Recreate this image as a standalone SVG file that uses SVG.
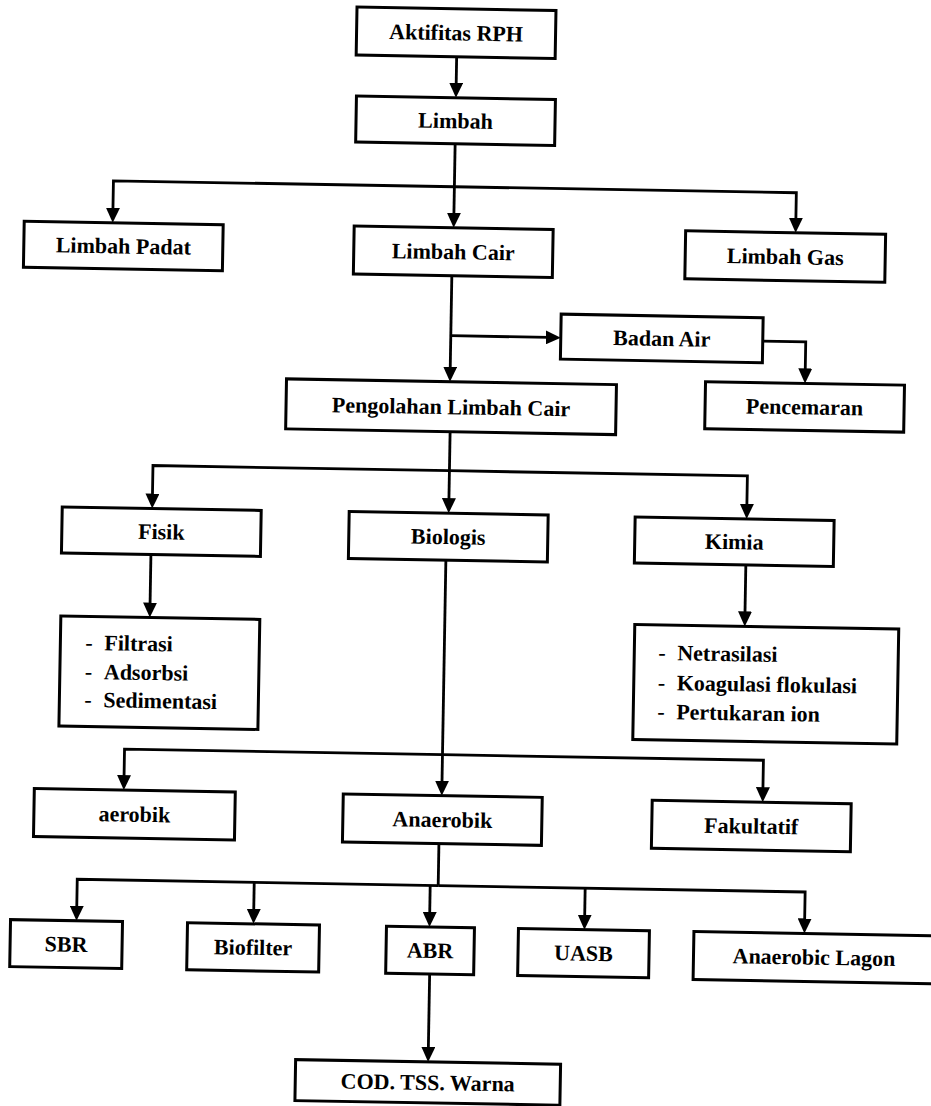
<svg xmlns="http://www.w3.org/2000/svg" width="931" height="1106" viewBox="0 0 931 1106">
<defs>
<style>
.box{fill:#fff;stroke:#000;stroke-width:3}
.t{font-family:"Liberation Serif","Times New Roman",serif;font-weight:bold;font-size:22px;fill:#000;text-anchor:middle}
.l{font-family:"Liberation Serif","Times New Roman",serif;font-weight:bold;font-size:22px;fill:#000}
.c{fill:none;stroke:#000;stroke-width:2.8;stroke-linejoin:miter}
.a{marker-end:url(#arr)}
</style>
<marker id="arr" markerUnits="userSpaceOnUse" markerWidth="15" markerHeight="14" refX="3" refY="7" orient="auto">
<path d="M0,0 L15,7 L0,14 z" fill="#000"/>
</marker>
</defs>
<rect width="931" height="1106" fill="#fff"/>
<g transform="rotate(1 465 553)">
<g id="connectors">
<path class="c a" d="M448,57 V86"/>
<path class="c a" d="M448,144 V216"/>
<path class="c a" d="M448,187 H107 V217"/>
<path class="c a" d="M448,187 H790 V215"/>
<path class="c a" d="M447,276 V370"/>
<path class="c a" d="M447,336 H545"/>
<path class="c a" d="M759,336 H802 V365.5"/>
<path class="c a" d="M448,432 V501.5"/>
<path class="c a" d="M448,471 H151.5 V502"/>
<path class="c a" d="M448,471 H746 V502"/>
<path class="c a" d="M151,560 V611"/>
<path class="c a" d="M746,560 V609.5"/>
<path class="c a" d="M446,560.5 V784"/>
<path class="c a" d="M446,755 H128 V784"/>
<path class="c a" d="M446,755 H767 V785"/>
<path class="c" d="M444,844 V886"/>
<path class="c a" d="M444,886 H83 V915.5"/>
<path class="c a" d="M444,886 H811 V915.5"/>
<path class="c a" d="M260,886 V915.5"/>
<path class="c a" d="M436,886 V915.5"/>
<path class="c a" d="M591,886 V915.5"/>
<path class="c a" d="M437,974 V1050.5"/>
</g>
<g id="aktifitas"><rect class="box" x="347.5" y="9" width="199" height="48"/><text class="t" x="447" y="40.5">Aktifitas RPH</text></g>
<g id="limbah"><rect class="box" x="348.5" y="98" width="199" height="46"/><text class="t" x="448" y="128.5">Limbah</text></g>
<g id="limbah-padat"><rect class="box" x="18.5" y="229" width="199" height="46"/><text class="t" x="118" y="259.5">Limbah Padat</text></g>
<g id="limbah-cair"><rect class="box" x="348.5" y="228" width="199" height="48"/><text class="t" x="448" y="259.5">Limbah Cair</text></g>
<g id="limbah-gas"><rect class="box" x="680" y="227" width="200" height="48"/><text class="t" x="780" y="258.5">Limbah Gas</text></g>
<g id="badan-air"><rect class="box" x="557" y="312.5" width="202" height="45"/><text class="t" x="658" y="342.5">Badan Air</text></g>
<g id="pencemaran"><rect class="box" x="702.5" y="377.5" width="199" height="47"/><text class="t" x="802" y="408.5">Pencemaran</text></g>
<g id="pengolahan"><rect class="box" x="283.5" y="382" width="330" height="50"/><text class="t" x="448.5" y="414.5">Pengolahan Limbah Cair</text></g>
<g id="fisik"><rect class="box" x="61.5" y="514" width="199" height="46"/><text class="t" x="161" y="544.5">Fisik</text></g>
<g id="biologis"><rect class="box" x="348.5" y="513.5" width="199" height="47"/><text class="t" x="448" y="544.5">Biologis</text></g>
<g id="kimia"><rect class="box" x="634.5" y="514" width="199" height="46"/><text class="t" x="734" y="544.5">Kimia</text></g>
<g id="fisik-list"><rect class="box" x="62" y="623" width="199" height="110"/>
<text class="l" y="656.5"><tspan x="87">-</tspan><tspan x="106">Filtrasi</tspan></text>
<text class="l" y="685.5"><tspan x="87">-</tspan><tspan x="106">Adsorbsi</tspan></text>
<text class="l" y="713.5"><tspan x="87">-</tspan><tspan x="106">Sedimentasi</tspan></text></g>
<g id="kimia-list"><rect class="box" x="636" y="621.5" width="264" height="115"/>
<text class="l" y="656.5"><tspan x="660">-</tspan><tspan x="679">Netrasilasi</tspan></text>
<text class="l" y="686.5"><tspan x="660">-</tspan><tspan x="679">Koagulasi flokulasi</tspan></text>
<text class="l" y="715.5"><tspan x="660">-</tspan><tspan x="679">Pertukaran ion</tspan></text></g>
<g id="aerobik"><rect class="box" x="38.5" y="796" width="201" height="48"/><text class="t" x="139" y="827.5">aerobik</text></g>
<g id="anaerobik"><rect class="box" x="347.5" y="796" width="199" height="48"/><text class="t" x="447" y="827.5">Anaerobik</text></g>
<g id="fakultatif"><rect class="box" x="656.5" y="797" width="199" height="48"/><text class="t" x="756" y="828.5">Fakultatif</text></g>
<g id="sbr"><rect class="box" x="17" y="927.5" width="112" height="47"/><text class="t" x="73" y="958.5">SBR</text></g>
<g id="biofilter"><rect class="box" x="194" y="927.5" width="132" height="47"/><text class="t" x="260" y="958.5">Biofilter</text></g>
<g id="abr"><rect class="box" x="393" y="927.5" width="88" height="47"/><text class="t" x="437" y="958.5">ABR</text></g>
<g id="uasb"><rect class="box" x="525" y="927.5" width="131" height="47"/><text class="t" x="590.5" y="958.5">UASB</text></g>
<g id="anaerobic-lagon"><rect class="box" x="700.5" y="927.5" width="250" height="48"/><text class="t" x="821" y="958.5">Anaerobic Lagon</text></g>
<g id="cod"><rect class="box" x="304.5" y="1062.5" width="265" height="41"/><text class="t" x="437" y="1090.5">COD. TSS. Warna</text></g>
</g>
</svg>
